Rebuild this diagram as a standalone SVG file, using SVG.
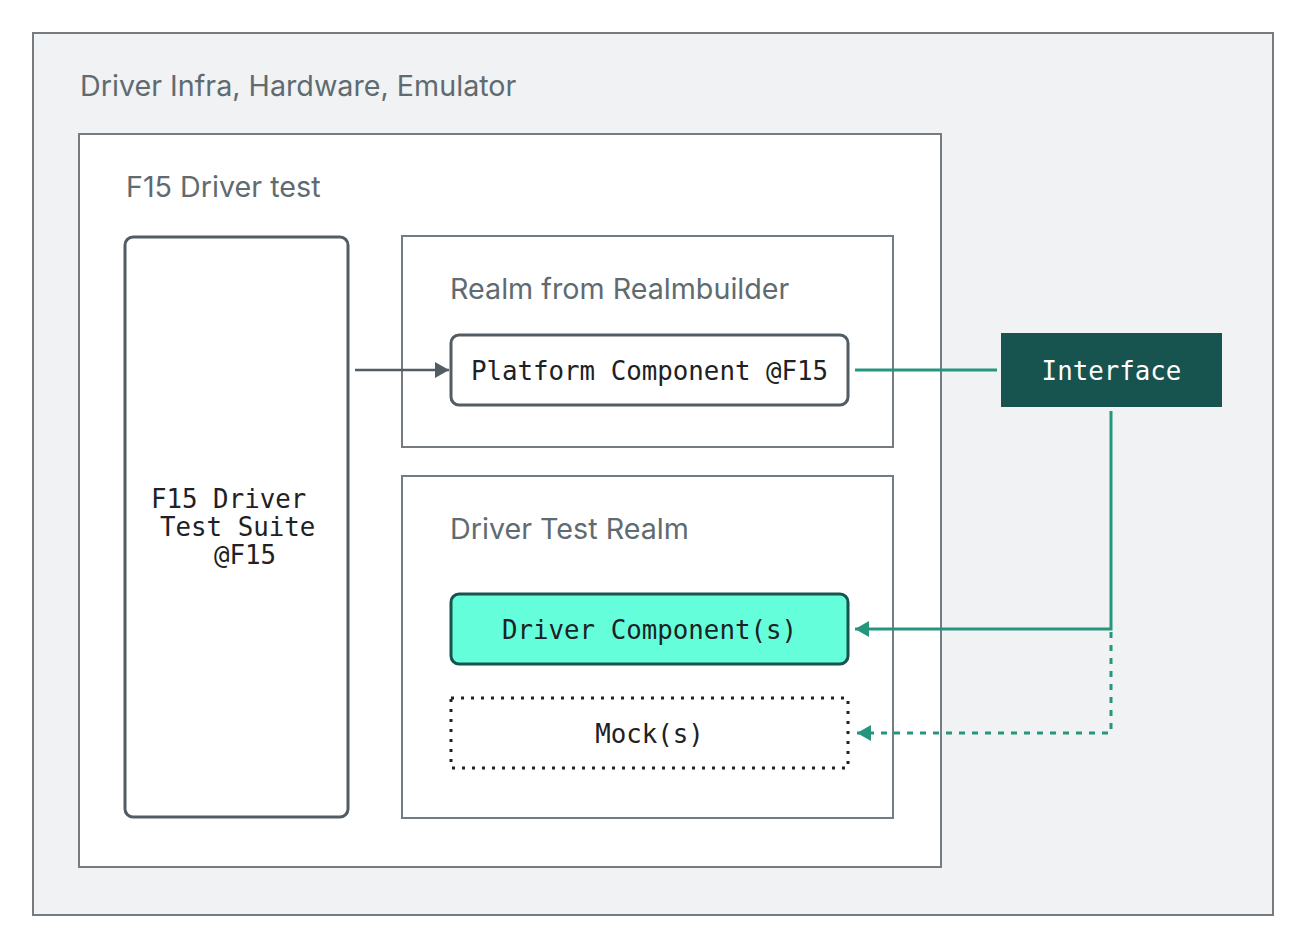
<svg xmlns="http://www.w3.org/2000/svg" width="1306" height="949" viewBox="0 0 1306 949">
<defs>
<style>
.frame{fill:#ffffff;stroke:#747c82;stroke-width:2}
.title{font-family:Inter,"Open Sans","Liberation Sans",sans-serif;font-size:28.7px;fill:#5f6b70}
.mono{font-family:"DejaVu Sans Mono","Liberation Mono",monospace;font-size:25.8px;fill:#202124}
.node{fill:#ffffff;stroke:#525c63;stroke-width:3}
.teal{stroke:#26957e;stroke-width:3;fill:none}
</style>
<marker id="ag" viewBox="0 0 14 16" refX="14" refY="8" markerWidth="14" markerHeight="16" markerUnits="userSpaceOnUse" orient="auto"><path d="M0,0 L14,8 L0,16 Z" fill="#525c63"/></marker>
<marker id="at" viewBox="0 0 14 16" refX="14" refY="8" markerWidth="14" markerHeight="16" markerUnits="userSpaceOnUse" orient="auto"><path d="M0,0 L14,8 L0,16 Z" fill="#26957e"/></marker>
</defs>
<g id="infra">
<rect x="33" y="33" width="1240" height="882" fill="#f1f2f4" stroke="#747c82" stroke-width="2"/>
<text class="title" x="80" y="96">Driver Infra, Hardware, Emulator</text>
</g>
<g id="driver-test">
<rect class="frame" x="79" y="134" width="862" height="733"/>
<text class="title" x="126" y="197">F15 Driver test</text>
</g>
<g id="test-suite">
<rect class="node" x="125" y="237" width="223" height="580" rx="8"/>
<text class="mono" x="151" y="508">F15 Driver</text>
<text class="mono" x="160" y="536">Test Suite</text>
<text class="mono" x="214" y="564">@F15</text>
</g>
<g id="realm-builder">
<rect class="frame" x="402" y="236" width="491" height="211"/>
<text class="title" x="450" y="299">Realm from Realmbuilder</text>
</g>
<g id="platform-component">
<rect class="node" x="451" y="335" width="397" height="70" rx="8"/>
<text class="mono" x="649.5" y="380" text-anchor="middle">Platform Component @F15</text>
</g>
<g id="driver-test-realm">
<rect class="frame" x="402" y="476" width="491" height="342"/>
<text class="title" x="450" y="539">Driver Test Realm</text>
</g>
<g id="driver-component">
<rect x="451" y="594" width="397" height="70" rx="8" fill="#64ffda" stroke="#17534f" stroke-width="3"/>
<text class="mono" x="649.5" y="639" text-anchor="middle">Driver Component(s)</text>
</g>
<g id="mocks">
<rect x="451" y="698" width="397" height="70" fill="#ffffff" stroke="#202124" stroke-width="3" stroke-dasharray="3 7"/>
<text class="mono" x="649.5" y="743" text-anchor="middle">Mock(s)</text>
</g>
<g id="interface">
<rect x="1001" y="333" width="221" height="74" fill="#17534f"/>
<text class="mono" x="1111.5" y="380" text-anchor="middle" style="fill:#ffffff">Interface</text>
</g>
<g id="connectors">
<line x1="355" y1="370" x2="449" y2="370" stroke="#525c63" stroke-width="2.5" marker-end="url(#ag)"/>
<line class="teal" x1="855" y1="370" x2="997" y2="370"/>
<path class="teal" d="M1111,411 L1111,629 L855,629" marker-end="url(#at)"/>
<path class="teal" d="M1111,632 L1111,733 L857,733" stroke-dasharray="6 7" marker-end="url(#at)"/>
</g>
</svg>
